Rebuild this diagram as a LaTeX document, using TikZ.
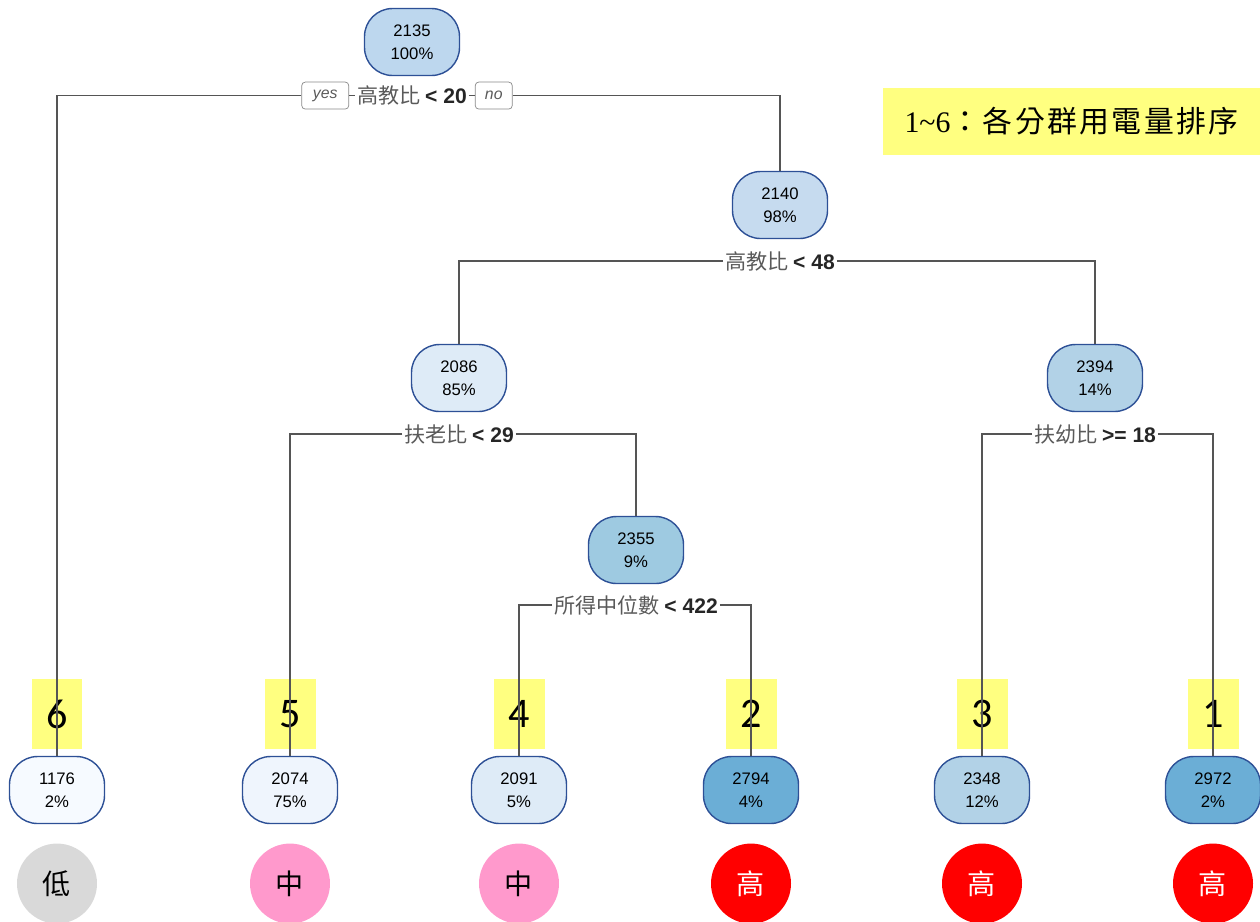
\documentclass[tikz,border=0pt]{standalone}
\usepackage{fontspec}
\setmainfont{Liberation Sans}
\newfontfamily\cjk{Noto Sans CJK TC}
\newfontfamily\cjkwide{Noto Sans CJK TC}[LetterSpace=8]
\newfontfamily\rankfont{Carlito}
\newfontfamily\serifnum{Liberation Serif}
\usetikzlibrary{positioning}

\definecolor{nodeblue}{RGB}{45,80,150}
\definecolor{linegray}{RGB}{85,85,85}
\definecolor{condgray}{RGB}{90,90,90}
\definecolor{hiyellow}{RGB}{255,255,128}
\definecolor{lowgray}{RGB}{217,217,217}
\definecolor{midpink}{RGB}{255,153,204}
\definecolor{highred}{RGB}{255,0,0}
\definecolor{b0}{RGB}{246,250,255}
\definecolor{b1}{RGB}{239,245,253}
\definecolor{b2}{RGB}{222,235,247}
\definecolor{b3}{RGB}{198,219,239}
\definecolor{b4}{RGB}{189,215,238}
\definecolor{b5}{RGB}{178,210,231}
\definecolor{b6}{RGB}{158,202,225}
\definecolor{b7}{RGB}{107,174,214}

\begin{document}
\begin{tikzpicture}[x=0.02cm,y=-0.02cm,node distance=0.2cm,
    split/.style={draw=nodeblue,line width=0.8pt,rounded corners=0.56cm,
      minimum width=1.9cm,minimum height=1.34cm,align=center,
      font=\fontsize{9.5}{13}\selectfont},
    cond/.style={inner sep=1pt,text=condgray,font=\cjk\fontsize{12}{14}\selectfont},
    tag/.style={draw=linegray!70,rounded corners=2pt,inner sep=1pt,
      minimum height=0.54cm,text=condgray,font=\itshape\fontsize{9}{10}\selectfont},
    rank/.style={fill=hiyellow,minimum width=1.02cm,minimum height=1.4cm,
      font=\rankfont\fontsize{24}{24}\selectfont},
    level/.style={circle,minimum size=1.6cm,inner sep=0pt,
      font=\cjk\fontsize{16}{16}\selectfont},
    edge/.style={draw=linegray,line width=0.8pt}]
  \useasboundingbox (0,0) rectangle (1260,921);

  % inner nodes
  \node[split,fill=b4] (n2135) at (412,42) {2135\\100\%};
  \node[split,fill=b3] (n2140) at (780,205) {2140\\98\%};
  \node[split,fill=b2] (n2086) at (459,378) {2086\\85\%};
  \node[split,fill=b5] (n2394) at (1095,378) {2394\\14\%};
  \node[split,fill=b6] (n2355) at (636,550) {2355\\9\%};

  % leaves
  \node[split,fill=b0] (l1176) at (57,790) {1176\\2\%};
  \node[split,fill=b1] (l2074) at (290,790) {2074\\75\%};
  \node[split,fill=b2] (l2091) at (519,790) {2091\\5\%};
  \node[split,fill=b7] (l2794) at (751,790) {2794\\4\%};
  \node[split,fill=b5] (l2348) at (982,790) {2348\\12\%};
  \node[split,fill=b7] (l2972) at (1213,790) {2972\\2\%};

  % split rules
  \node[cond,below=0.15cm of n2135] (c1) {高教比 {\rmfamily\bfseries\color{black!85}< 20}};
  \node[cond,below=of n2140] (c2) {高教比 {\rmfamily\bfseries\color{black!85}< 48}};
  \node[cond,below=of n2086] (c3) {扶老比 {\rmfamily\bfseries\color{black!85}< 29}};
  \node[cond,below=of n2394] (c5) {扶幼比 {\rmfamily\bfseries\color{black!85}>= 18}};
  \node[cond,below=0.18cm of n2355] (c4) {所得中位數 {\rmfamily\bfseries\color{black!85}< 422}};
  \node[tag,left=0.12cm of c1,minimum width=0.94cm] (yes) {yes};
  \node[tag,right=0.12cm of c1,minimum width=0.74cm] (no) {no};

  % ranks
  \node[rank,above=0.13cm of l1176] (r6) {6};
  \node[rank,above=0.13cm of l2074] (r5) {5};
  \node[rank,above=0.13cm of l2091] (r4) {4};
  \node[rank,above=0.13cm of l2794] (r2) {2};
  \node[rank,above=0.13cm of l2348] (r3) {3};
  \node[rank,above=0.13cm of l2972] (r1) {1};

  % levels
  \node[level,fill=lowgray,below=0.38cm of l1176] (v6) {低};
  \node[level,fill=midpink,below=0.38cm of l2074] (v5) {中};
  \node[level,fill=midpink,below=0.38cm of l2091] (v4) {中};
  \node[level,fill=highred,text=white,below=0.38cm of l2794] (v2) {高};
  \node[level,fill=highred,text=white,below=0.38cm of l2348] (v3) {高};
  \node[level,fill=highred,text=white,below=0.38cm of l2972] (v1) {高};

  % legend
  \node[fill=hiyellow,minimum width=7.54cm,minimum height=1.34cm,
    font=\fontsize{17}{17}\selectfont] (legend) at (1071.5,121.5)
    {{\serifnum 1\textasciitilde 6}{\cjkwide ：各分群用電量排序}};

  % connectors
  \draw[edge] (yes.west) -| (l1176);
  \draw[edge] (yes.east) -- (c1.west);
  \draw[edge] (c1.east) -- (no.west);
  \draw[edge] (no.east) -| (n2140);
  \draw[edge] (c2.west) -| (n2086);
  \draw[edge] (c2.east) -| (n2394);
  \draw[edge] (c3.west) -| (l2074);
  \draw[edge] (c3.east) -| (n2355);
  \draw[edge] (c4.west) -| (l2091);
  \draw[edge] (c4.east) -| (l2794);
  \draw[edge] (c5.west) -| (l2348);
  \draw[edge] (c5.east) -| (l2972);
\end{tikzpicture}
\end{document}
